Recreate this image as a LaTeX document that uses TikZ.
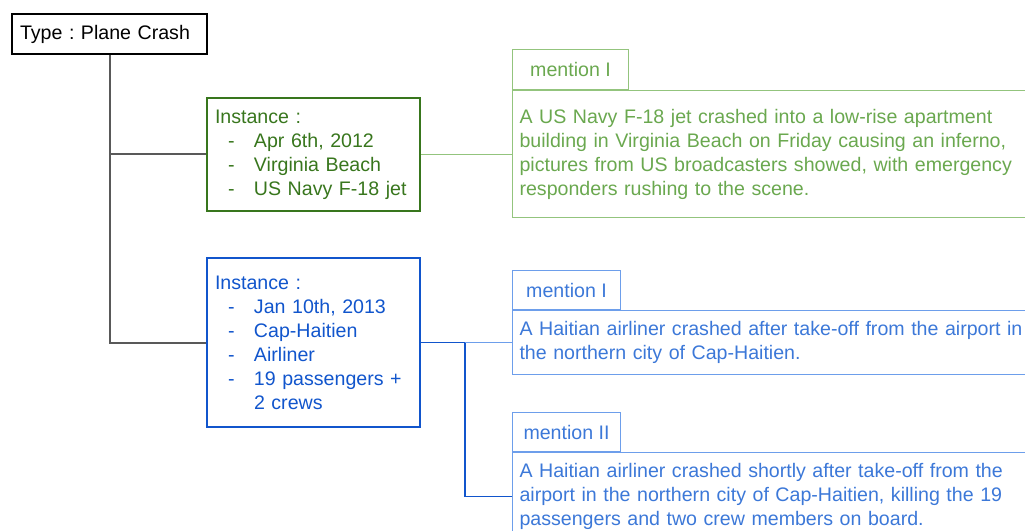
\documentclass[tikz,border=0pt]{standalone}
\usepackage{fontspec}
\setmainfont{Liberation Sans}
\frenchspacing
\definecolor{trunkgray}{HTML}{595959}
\definecolor{instgreen}{HTML}{38761D}
\definecolor{mentgreen}{HTML}{6AA84F}
\definecolor{mentgreenline}{HTML}{93C47D}
\definecolor{instblue}{HTML}{1155CC}
\definecolor{mentblue}{HTML}{3C78D8}
\definecolor{mentblueline}{HTML}{6D9EEB}
\newcommand\instItem[1]{\makebox[29.25pt][l]{\hspace*{9.75pt}-}#1}
\begin{document}
\begin{tikzpicture}[x=0.75pt,y=-0.75pt,
  every node/.style={font=\fontsize{14.7pt}{18pt}\selectfont, inner ysep=0pt},
  typebox/.style={draw=black, line width=1.5pt, rectangle, anchor=north west,
    minimum width=146.25pt, minimum height=30pt, inner xsep=6pt,
    text width=134.25pt, align=left},
  instbox/.style={draw=#1, text=#1, line width=1.5pt, rectangle, anchor=north west,
    minimum width=159.75pt, inner xsep=6pt, text width=147.75pt, align=left},
  mlabel/.style={rectangle, anchor=north west, minimum height=30pt, inner xsep=0pt, align=center},
  mbody/.style={rectangle, anchor=north west, minimum width=396pt, inner xsep=5.25pt,
    text width=385.5pt, align=left},
  greenm/.style={draw=mentgreenline, text=mentgreen, line width=0.8pt},
  bluem/.style={draw=mentblueline, text=mentblue, line width=0.8pt},
]
\clip (0,0) rectangle (1025,531);
\useasboundingbox (0,0) rectangle (1025,531);

% event type
\node[typebox] (type) at (11,13) {Type : Plane Crash};

% instances
\node[instbox=instgreen, minimum height=84.75pt] (gi) at (206,97)
  {Instance :\\ \instItem{Apr 6th, 2012}\\ \instItem{Virginia Beach}\\ \instItem{US Navy F-18 jet}};
\node[instbox=instblue, minimum height=126.75pt] (bi) at (206,257)
  {Instance :\\ \instItem{Jan 10th, 2013}\\ \instItem{Cap-Haitien}\\ \instItem{Airliner}\\
   \instItem{19 passengers +}\\ \hspace*{29.25pt}2 crews};

% mentions of the first instance
\node[mlabel, greenm, minimum width=87pt] (gml) at (512,49) {mention I};
\node[mbody, greenm, minimum height=95.25pt] (gmb) at (gml.south west)
  {A US Navy F-18 jet crashed into a low-rise apartment\\
   building in Virginia Beach on Friday causing an inferno,\\
   pictures from US broadcasters showed, with emergency\\
   responders rushing to the scene.};

% mentions of the second instance
\node[mlabel, bluem, minimum width=81pt, minimum height=29.25pt] (bml1) at (512,270) {mention I};
\node[mbody, bluem, minimum height=48pt] (bmb1) at (bml1.south west)
  {A Haitian airliner crashed after take-off from the airport in\\
   the northern city of Cap-Haitien.};
\node[mlabel, bluem, minimum width=81pt, minimum height=29.25pt] (bml2) at (512,412) {mention II};
\node[mbody, bluem, minimum height=66pt] (bmb2) at (bml2.south west)
  {A Haitian airliner crashed shortly after take-off from the\\
   airport in the northern city of Cap-Haitien, killing the 19\\
   passengers and two crew members on board.};

% tree connectors
\draw[trunkgray, line width=1.5pt] (type.south) -- (type.south |- bi.west) -- (bi.west);
\draw[trunkgray, line width=1.5pt] (type.south |- gi.west) -- (gi.west);

\draw[mentgreenline, line width=1pt] (gi.east) -- (gi.east -| gmb.west);

\coordinate (split) at (465,0);
\draw[instblue, line width=0.9pt] (bi.east) -- (bi.east -| split) |- (bmb2.west);
\draw[mentblueline, line width=1pt] (bi.east -| split) -- (bi.east -| bmb1.west);
\end{tikzpicture}
\end{document}
